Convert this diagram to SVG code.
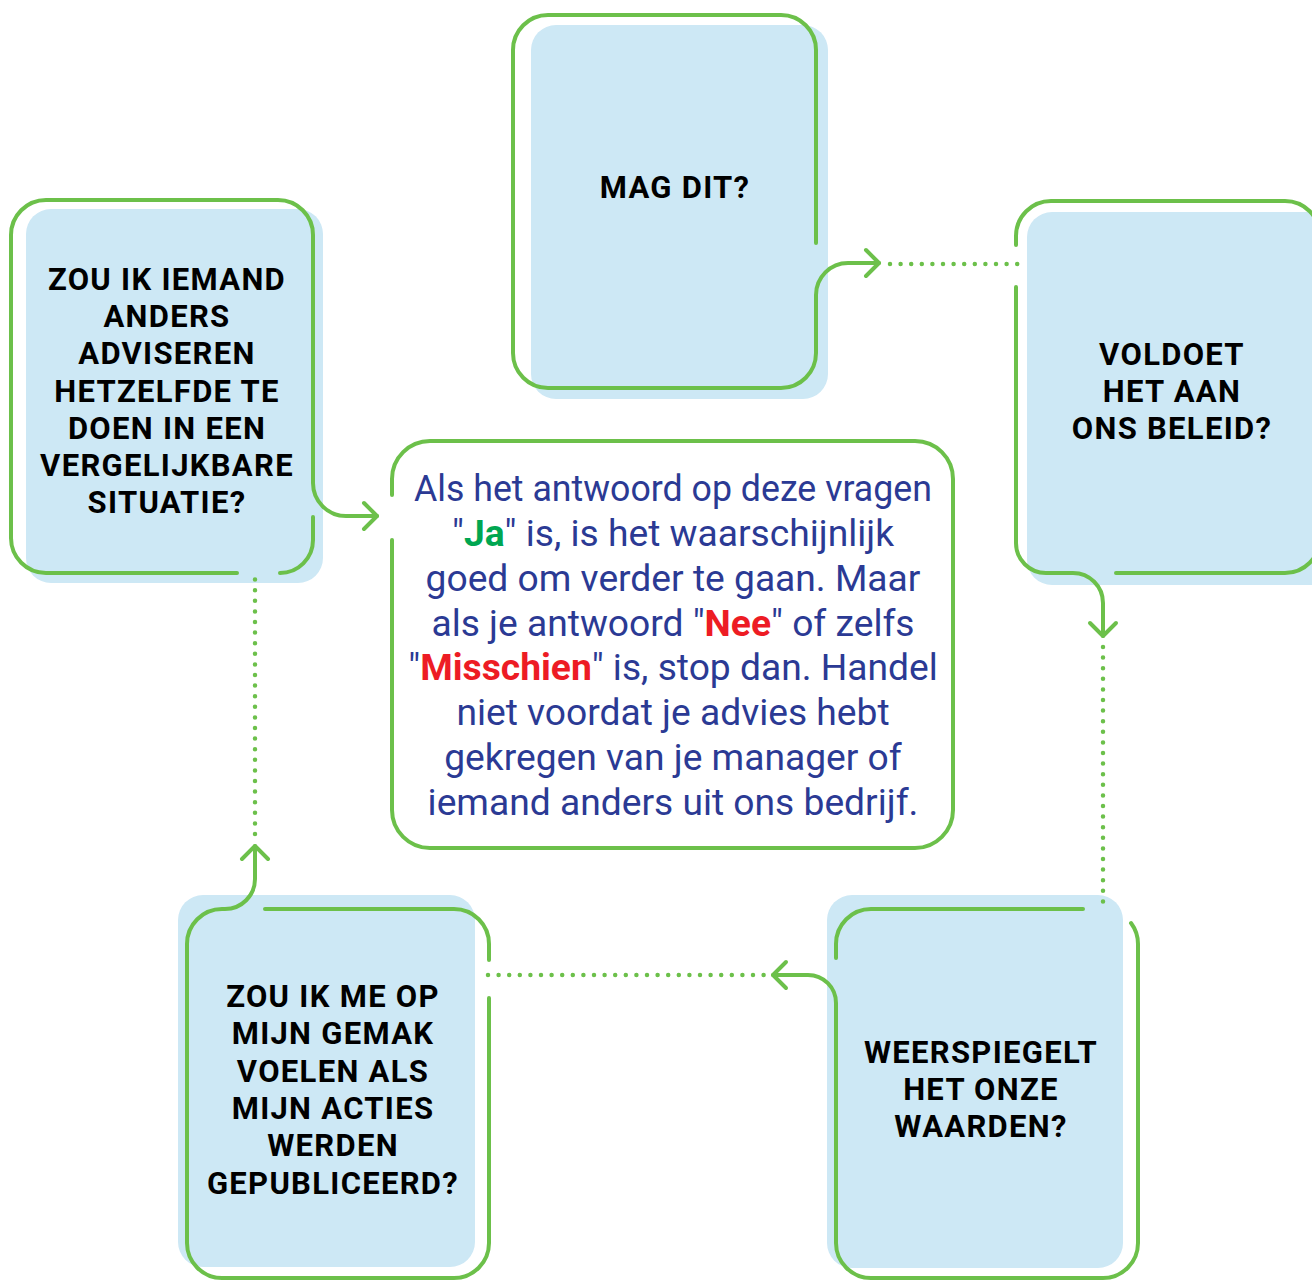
<svg xmlns="http://www.w3.org/2000/svg" width="1312" height="1280" viewBox="0 0 1312 1280">
<style>
.fill{fill:#cde8f5;}
.ol{fill:none;stroke:#6cc04a;stroke-width:4;stroke-linecap:round;stroke-linejoin:round;}
.dot{fill:none;stroke:#6cc04a;stroke-width:4.5;stroke-linecap:round;stroke-dasharray:0 10.6;}
.q{font-family:Roboto,"Liberation Sans",sans-serif;font-weight:700;font-size:31px;letter-spacing:1.3px;fill:#000;text-anchor:middle;}
.body{font-family:Roboto,"Liberation Sans",sans-serif;font-size:37.2px;fill:#2b3a94;text-anchor:middle;}
.ja{fill:#00a651;font-weight:700;}
.no{fill:#ed1c24;font-weight:700;}
</style>
<rect width="1312" height="1280" fill="#fff"/>

<g id="node-mag">
<rect class="fill" x="531" y="25" width="297" height="374" rx="25"/>
<text class="q" x="675" y="198">MAG DIT?</text>
</g>

<g id="node-beleid">
<rect class="fill" x="1027" y="212" width="310" height="373" rx="25"/>
<text class="q" x="1172" y="365">VOLDOET</text>
<text class="q" x="1172" y="402">HET AAN</text>
<text class="q" x="1172" y="439">ONS BELEID?</text>
</g>

<g id="node-waarden">
<rect class="fill" x="827" y="895" width="296" height="373" rx="25"/>
<text class="q" x="981" y="1063">WEERSPIEGELT</text>
<text class="q" x="981" y="1100">HET ONZE</text>
<text class="q" x="981" y="1137">WAARDEN?</text>
</g>

<g id="node-gepubliceerd">
<rect class="fill" x="178" y="895" width="297" height="372" rx="25"/>
<text class="q" x="333" y="1007">ZOU IK ME OP</text>
<text class="q" x="333" y="1044">MIJN GEMAK</text>
<text class="q" x="333" y="1082">VOELEN ALS</text>
<text class="q" x="333" y="1119">MIJN ACTIES</text>
<text class="q" x="333" y="1156">WERDEN</text>
<text class="q" x="333" y="1194">GEPUBLICEERD?</text>
</g>

<g id="node-adviseren">
<rect class="fill" x="26" y="209" width="297" height="374" rx="25"/>
<text class="q" x="167" y="290">ZOU IK IEMAND</text>
<text class="q" x="167" y="327">ANDERS</text>
<text class="q" x="167" y="364">ADVISEREN</text>
<text class="q" x="167" y="402">HETZELFDE TE</text>
<text class="q" x="167" y="439">DOEN IN EEN</text>
<text class="q" x="167" y="476">VERGELIJKBARE</text>
<text class="q" x="167" y="513">SITUATIE?</text>
</g>

<g id="node-center">
<path class="ol" d="M392 495 L392 479 A38 38 0 0 1 430 441 L915 441 A38 38 0 0 1 953 479 L953 810 A38 38 0 0 1 915 848 L430 848 A38 38 0 0 1 392 810 L392 540"/>
<text class="body" x="673" y="501" textLength="518" lengthAdjust="spacingAndGlyphs">Als het antwoord op deze vragen</text>
<text class="body" x="673" y="546">"<tspan class="ja">Ja</tspan>" is, is het waarschijnlijk</text>
<text class="body" x="673" y="591">goed om verder te gaan. Maar</text>
<text class="body" x="673" y="636">als je antwoord "<tspan class="no">Nee</tspan>" of zelfs</text>
<text class="body" x="673" y="680">"<tspan class="no">Misschien</tspan>" is, stop dan. Handel</text>
<text class="body" x="673" y="725">niet voordat je advies hebt</text>
<text class="body" x="673" y="770">gekregen van je manager of</text>
<text class="body" x="673" y="815">iemand anders uit ons bedrijf.</text>
</g>

<g id="connectors">
<path class="ol" d="M816 243 L816 50 A35 35 0 0 0 781 15 L548 15 A35 35 0 0 0 513 50 L513 353 A35 35 0 0 0 548 388 L781 388 A35 35 0 0 0 816 353 L816 295 A32 32 0 0 1 848 263 L879 263"/>
<path class="ol" d="M866 250 L879 263 L866 276"/>
<path class="dot" d="M890 264 L1018 264"/>

<path class="ol" d="M1016 287 L1016 543 A30 30 0 0 0 1046 573 L1073 573 A30 30 0 0 1 1103 603 L1103 636"/>
<path class="ol" d="M1090 623 L1103 636 L1116 623"/>
<path class="ol" d="M1116 573 L1285 573 A35 35 0 0 0 1320 538 L1320 236 A35 35 0 0 0 1285 201 L1051 201 A35 35 0 0 0 1016 236 L1016 245"/>
<path class="dot" d="M1103 647 L1103 906"/>

<path class="ol" d="M1083 909 L871 909 A35 35 0 0 0 836 944 L836 958"/>
<path class="ol" d="M1131 923 A35 35 0 0 1 1138 944 L1138 1243 A35 35 0 0 1 1103 1278 L871 1278 A35 35 0 0 1 836 1243 L836 1003 A28 28 0 0 0 808 975 L773 975"/>
<path class="ol" d="M786 962 L773 975 L786 988"/>
<path class="dot" d="M488 975 L764 975"/>

<path class="ol" d="M265 909 L454 909 A35 35 0 0 1 489 944 L489 960"/>
<path class="ol" d="M489 998 L489 1243 A35 35 0 0 1 454 1278 L222 1278 A35 35 0 0 1 187 1243 L187 944 A35 35 0 0 1 222 909 L225 909 A30 30 0 0 0 255 879 L255 846"/>
<path class="ol" d="M242 859 L255 846 L268 859"/>
<path class="dot" d="M255 834 L255 575"/>

<path class="ol" d="M237 573 L46 573 A35 35 0 0 1 11 538 L11 235 A35 35 0 0 1 46 200 L278 200 A35 35 0 0 1 313 235 L313 483 A33 33 0 0 0 346 516 L377 516"/>
<path class="ol" d="M364 503 L377 516 L364 529"/>
<path class="ol" d="M313 517 L313 540 A33 33 0 0 1 280 573"/>
</g>
</svg>
